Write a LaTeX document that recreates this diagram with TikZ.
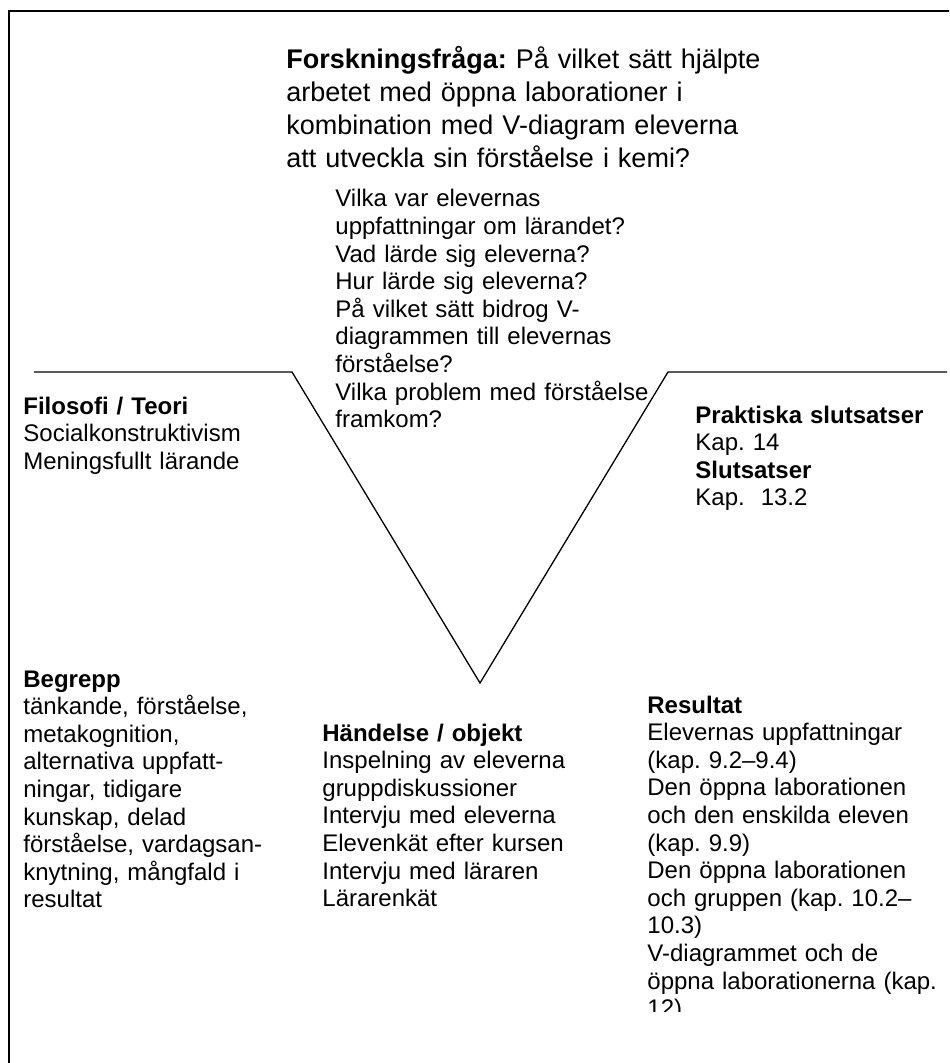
\documentclass[tikz,border=0pt]{standalone}
\usepackage{fontspec}
\setmainfont{Liberation Sans}
\frenchspacing
\begin{document}
\begin{tikzpicture}[x=0.5pt,y=-0.5pt,
  frameline/.style={line width=1pt, black},
  vline/.style={line width=0.65pt, black, line join=miter},
  body/.style={anchor=base west, inner sep=0pt, align=left, text width=#1,
    font=\fontsize{12}{13.8}\selectfont},
  body/.default=160pt,
  titletext/.style={anchor=base west, inner sep=0pt, align=left, text width=260pt,
    font=\fontsize{13.5}{16.5}\selectfont}]
\clip (0,0) rectangle (949,1063);
\useasboundingbox (0,0) rectangle (949,1063);
\fill[white] (0,0) rectangle (949,1063);

% outer frame (only top and left edges fall inside the page)
\draw[frameline] (9,1100) -- (9,11) -- (1000,11);

% the V
\coordinate (lstart) at (34,372);
\coordinate (lcorner) at (292,372);
\coordinate (vtip) at (480,683);
\coordinate (rcorner) at (668,372);
\coordinate (rend) at (947,372);
\draw[vline] (lstart) -- (lcorner) -- (vtip) -- (rcorner) -- (rend);

% research question
\node[titletext] (question) at (286,69)
  {\textbf{Forskningsfråga:} På vilket sätt hjälpte\\
   arbetet med öppna laborationer i\\
   kombination med V-diagram eleverna\\
   att utveckla sin förståelse i kemi?};

% sub-questions
\node[body=170pt] (subq) at (335,207)
  {Vilka var elevernas\\
   uppfattningar om lärandet?\\
   Vad lärde sig eleverna?\\
   Hur lärde sig eleverna?\\
   På vilket sätt bidrog V-\\
   diagrammen till elevernas\\
   förståelse?\\
   Vilka problem med förståelse\\
   framkom?};

% left wing
\node[body] (theory) at (23,414)
  {\textbf{Filosofi / Teori}\\
   Socialkonstruktivism\\
   Meningsfullt lärande};

\node[body] (concepts) at (23,687)
  {\textbf{Begrepp}\\
   tänkande, förståelse,\\
   metakognition,\\
   alternativa uppfatt-\\
   ningar, tidigare\\
   kunskap, delad\\
   förståelse, vardagsan-\\
   knytning, mångfald i\\
   resultat};

% bottom of the V
\node[body] (events) at (322,741)
  {\textbf{Händelse / objekt}\\
   Inspelning av eleverna\\
   gruppdiskussioner\\
   Intervju med eleverna\\
   Elevenkät efter kursen\\
   Intervju med läraren\\
   Lärarenkät};

% right wing
\node[body] (conclusions) at (695,423)
  {\textbf{Praktiska slutsatser}\\
   Kap. 14\\
   \textbf{Slutsatser}\\
   Kap.~~13.2};

\begin{scope}
\clip (600,600) rectangle (949,1011);
\node[body] (results) at (647,713)
  {\textbf{Resultat}\\
   Elevernas uppfattningar\\
   (kap. 9.2–9.4)\\
   Den öppna laborationen\\
   och den enskilda eleven\\
   (kap. 9.9)\\
   Den öppna laborationen\\
   och gruppen (kap. 10.2–\\
   10.3)\\
   V-diagrammet och de\\
   öppna laborationerna (kap.\\
   12)};
\end{scope}
\end{tikzpicture}
\end{document}
